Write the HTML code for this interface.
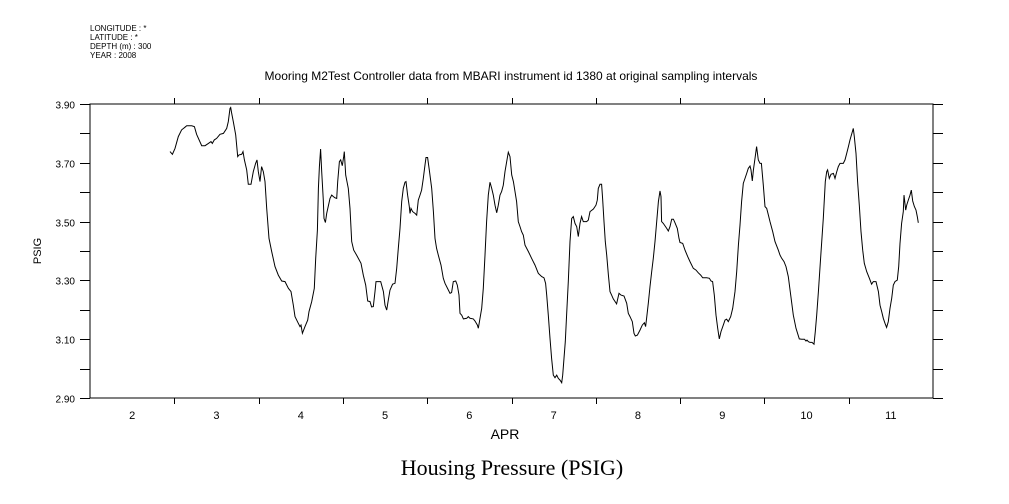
<!DOCTYPE html>
<html><head><meta charset="utf-8"><style>
body{margin:0;background:#fff;}
svg{display:block;font-family:"Liberation Sans",sans-serif;}
</style></head><body>
<svg id="chart" width="1009" height="504" viewBox="0 0 1009 504">
<g font-size="8" fill="#000">
<text x="90" y="31">LONGITUDE : *</text>
<text x="90" y="40">LATITUDE : *</text>
<text x="90" y="49">DEPTH (m) : 300</text>
<text x="90" y="58">YEAR : 2008</text>
</g>
<text x="511" y="80" font-size="12" text-anchor="middle">Mooring M2Test Controller data from MBARI instrument id 1380 at original sampling intervals</text>
<rect x="90" y="104" width="843" height="294" fill="none" stroke="#000" stroke-width="1"/>
<g id="yticks"></g>
<g id="xticks"></g>
<text transform="translate(41,251) rotate(-90)" font-size="11" text-anchor="middle">PSIG</text>
<text x="505" y="439" font-size="14" text-anchor="middle">APR</text>
<text x="512" y="475" font-size="22" text-anchor="middle" font-family="Liberation Serif, serif">Housing Pressure (PSIG)</text>
<path id="line" fill="none" stroke="#000" stroke-width="1"/>
</svg>
<script>
const days=[2,3,4,5,6,7,8,9,10,11];
const yTickVals=[2.9,3.0,3.1,3.2,3.3,3.4,3.5,3.6,3.7,3.8,3.9];
const yTickLabels=["2.90","","3.10","","3.30","","3.50","","3.70","","3.90"];
const times=[2.949,2.977,3.008,3.048,3.087,3.127,3.147,3.206,3.238,3.265,3.325,3.364,3.404,3.435,3.451,3.475,3.502,3.542,3.582,3.621,3.641,3.661,3.669,3.681,3.700,3.728,3.752,3.768,3.799,3.815,3.831,3.859,3.878,3.910,3.937,3.965,3.981,3.997,4.017,4.036,4.056,4.076,4.096,4.123,4.155,4.195,4.234,4.274,4.313,4.353,4.384,4.412,4.432,4.471,4.491,4.503,4.519,4.550,4.582,4.598,4.630,4.661,4.677,4.697,4.709,4.721,4.736,4.748,4.768,4.776,4.792,4.808,4.847,4.867,4.887,4.906,4.926,4.938,4.958,4.974,4.993,5.009,5.017,5.033,5.064,5.084,5.104,5.128,5.163,5.215,5.242,5.270,5.294,5.321,5.341,5.361,5.381,5.393,5.448,5.480,5.499,5.519,5.539,5.559,5.590,5.618,5.638,5.657,5.677,5.697,5.717,5.737,5.748,5.768,5.788,5.796,5.808,5.827,5.855,5.875,5.895,5.914,5.934,5.954,5.974,5.986,6.005,6.025,6.053,6.073,6.092,6.112,6.132,6.164,6.191,6.211,6.251,6.270,6.290,6.310,6.338,6.357,6.377,6.389,6.409,6.429,6.468,6.488,6.508,6.547,6.567,6.595,6.606,6.626,6.646,6.666,6.686,6.705,6.725,6.745,6.765,6.784,6.804,6.824,6.844,6.863,6.883,6.903,6.923,6.943,6.962,6.982,7.002,7.022,7.041,7.061,7.081,7.101,7.120,7.140,7.160,7.200,7.239,7.279,7.318,7.358,7.385,7.405,7.417,7.437,7.457,7.476,7.496,7.516,7.536,7.555,7.575,7.595,7.607,7.623,7.638,7.654,7.674,7.694,7.714,7.733,7.753,7.773,7.793,7.812,7.832,7.852,7.891,7.911,7.931,7.971,8.002,8.018,8.030,8.050,8.069,8.081,8.097,8.113,8.129,8.149,8.168,8.188,8.208,8.247,8.275,8.299,8.334,8.366,8.386,8.406,8.433,8.453,8.469,8.493,8.524,8.552,8.576,8.591,8.603,8.623,8.643,8.663,8.682,8.702,8.722,8.742,8.761,8.773,8.781,8.801,8.841,8.860,8.880,8.900,8.920,8.940,8.967,8.987,8.999,9.031,9.058,9.090,9.117,9.157,9.189,9.216,9.244,9.268,9.315,9.347,9.367,9.386,9.406,9.426,9.446,9.465,9.485,9.513,9.533,9.552,9.572,9.600,9.624,9.651,9.671,9.691,9.711,9.730,9.750,9.770,9.790,9.809,9.829,9.841,9.857,9.869,9.889,9.908,9.928,9.948,9.964,9.987,10.007,10.027,10.047,10.066,10.098,10.126,10.145,10.165,10.185,10.205,10.232,10.256,10.284,10.312,10.343,10.375,10.414,10.442,10.474,10.493,10.505,10.521,10.541,10.565,10.588,10.604,10.620,10.640,10.667,10.699,10.723,10.739,10.750,10.770,10.790,10.818,10.837,10.857,10.877,10.897,10.936,10.956,10.976,10.996,11.015,11.035,11.055,11.067,11.087,11.106,11.126,11.146,11.166,11.185,11.213,11.245,11.272,11.292,11.324,11.352,11.371,11.391,11.411,11.431,11.450,11.470,11.490,11.510,11.529,11.549,11.577,11.593,11.608,11.628,11.648,11.656,11.676,11.688,11.707,11.727,11.743,11.759,11.779,11.798,11.814,11.826];
const values=[3.738,3.729,3.749,3.789,3.812,3.821,3.826,3.826,3.823,3.797,3.758,3.758,3.766,3.772,3.766,3.778,3.783,3.797,3.800,3.817,3.840,3.885,3.888,3.868,3.840,3.795,3.721,3.727,3.729,3.738,3.710,3.676,3.627,3.627,3.670,3.698,3.710,3.670,3.636,3.687,3.670,3.636,3.545,3.443,3.398,3.347,3.318,3.298,3.296,3.273,3.262,3.216,3.177,3.154,3.143,3.148,3.120,3.143,3.165,3.194,3.228,3.273,3.375,3.471,3.613,3.687,3.747,3.670,3.573,3.511,3.497,3.528,3.579,3.590,3.585,3.581,3.579,3.636,3.704,3.710,3.690,3.721,3.738,3.658,3.613,3.545,3.432,3.403,3.386,3.358,3.318,3.284,3.230,3.228,3.210,3.211,3.262,3.296,3.296,3.262,3.216,3.199,3.233,3.267,3.287,3.290,3.341,3.409,3.477,3.568,3.613,3.634,3.636,3.590,3.551,3.528,3.545,3.534,3.528,3.522,3.573,3.590,3.607,3.647,3.693,3.718,3.718,3.676,3.613,3.534,3.443,3.409,3.386,3.352,3.307,3.290,3.267,3.256,3.259,3.296,3.298,3.284,3.250,3.188,3.182,3.169,3.171,3.177,3.171,3.169,3.162,3.148,3.137,3.171,3.205,3.273,3.386,3.500,3.590,3.634,3.613,3.590,3.556,3.530,3.556,3.590,3.602,3.624,3.670,3.704,3.736,3.721,3.659,3.636,3.602,3.568,3.500,3.483,3.466,3.454,3.420,3.398,3.375,3.352,3.324,3.313,3.309,3.290,3.250,3.182,3.103,3.035,2.978,2.969,2.978,2.967,2.961,2.952,2.978,3.035,3.092,3.182,3.296,3.432,3.511,3.517,3.494,3.483,3.449,3.494,3.517,3.500,3.500,3.505,3.534,3.543,3.556,3.573,3.613,3.627,3.627,3.579,3.500,3.432,3.386,3.318,3.262,3.250,3.237,3.220,3.256,3.250,3.247,3.222,3.188,3.177,3.160,3.120,3.111,3.114,3.131,3.148,3.156,3.143,3.171,3.222,3.279,3.330,3.375,3.432,3.500,3.568,3.604,3.585,3.500,3.494,3.477,3.468,3.483,3.508,3.508,3.496,3.477,3.443,3.429,3.426,3.403,3.381,3.364,3.341,3.335,3.326,3.318,3.309,3.309,3.307,3.298,3.296,3.250,3.182,3.137,3.101,3.126,3.148,3.165,3.168,3.160,3.177,3.205,3.262,3.330,3.420,3.488,3.568,3.630,3.647,3.664,3.681,3.689,3.676,3.638,3.676,3.715,3.755,3.710,3.698,3.698,3.624,3.551,3.545,3.522,3.500,3.466,3.432,3.418,3.403,3.386,3.375,3.364,3.347,3.313,3.250,3.182,3.137,3.101,3.100,3.100,3.094,3.097,3.092,3.089,3.089,3.083,3.126,3.182,3.262,3.375,3.511,3.636,3.670,3.676,3.647,3.661,3.664,3.647,3.668,3.687,3.698,3.698,3.710,3.732,3.755,3.778,3.798,3.817,3.789,3.732,3.636,3.556,3.466,3.403,3.358,3.330,3.307,3.287,3.296,3.296,3.262,3.216,3.194,3.171,3.154,3.140,3.160,3.205,3.239,3.284,3.296,3.301,3.347,3.426,3.494,3.534,3.590,3.539,3.556,3.573,3.590,3.607,3.570,3.551,3.539,3.517,3.496];
const X0=90,X1=933,Y0=398,Y1=104,T0=2,T1=12,V0=2.9,V1=3.9;
function xs(t){return X0+(t-T0)/(T1-T0)*(X1-X0);}
function ys(v){return Y0-(v-V0)/(V1-V0)*(Y0-Y1);}
const NS="http://www.w3.org/2000/svg";
const yg=document.getElementById('yticks');
yTickVals.forEach((v,i)=>{
  const y=Math.round(ys(v))+0.5;
  const l=document.createElementNS(NS,'line');
  
  
  l.setAttribute('x1',80);l.setAttribute('x2',90);l.setAttribute('y1',y);l.setAttribute('y2',y);l.setAttribute('stroke','#000');
  yg.appendChild(l);
  const r=document.createElementNS(NS,'line');
  
  
  r.setAttribute('x1',933);r.setAttribute('x2',943);r.setAttribute('y1',y);r.setAttribute('y2',y);r.setAttribute('stroke','#000');
  yg.appendChild(r);
  if(yTickLabels[i]){
    const t=document.createElementNS(NS,'text');
    
    
    t.setAttribute('x',75);t.setAttribute('y',y+4);t.setAttribute('text-anchor','end');t.setAttribute('font-size','10');
    t.textContent=yTickLabels[i];yg.appendChild(t);
  }
});
const xg=document.getElementById('xticks');
for(let d=T0+1;d<T1;d++){
  const x=Math.round(xs(d))+0.5;
  [[398,404],[98,104]].forEach(p=>{
    const l=document.createElementNS(NS,'line');
    
    
    l.setAttribute('x1',x);l.setAttribute('x2',x);l.setAttribute('y1',p[0]);l.setAttribute('y2',p[1]);l.setAttribute('stroke','#000');
    xg.appendChild(l);
  });
}
days.forEach(d=>{
  const t=document.createElementNS(NS,'text');
  
  
  t.setAttribute('x',xs(d+0.5));t.setAttribute('y',419);t.setAttribute('text-anchor','middle');t.setAttribute('font-size','11');
  t.textContent=d;xg.appendChild(t);
});
let dstr='';
times.forEach((t,i)=>{dstr+=(i?'L':'M')+xs(t).toFixed(1)+' '+ys(values[i]).toFixed(1);});
document.getElementById('line').setAttribute('d',dstr);
</script>
</body></html>
